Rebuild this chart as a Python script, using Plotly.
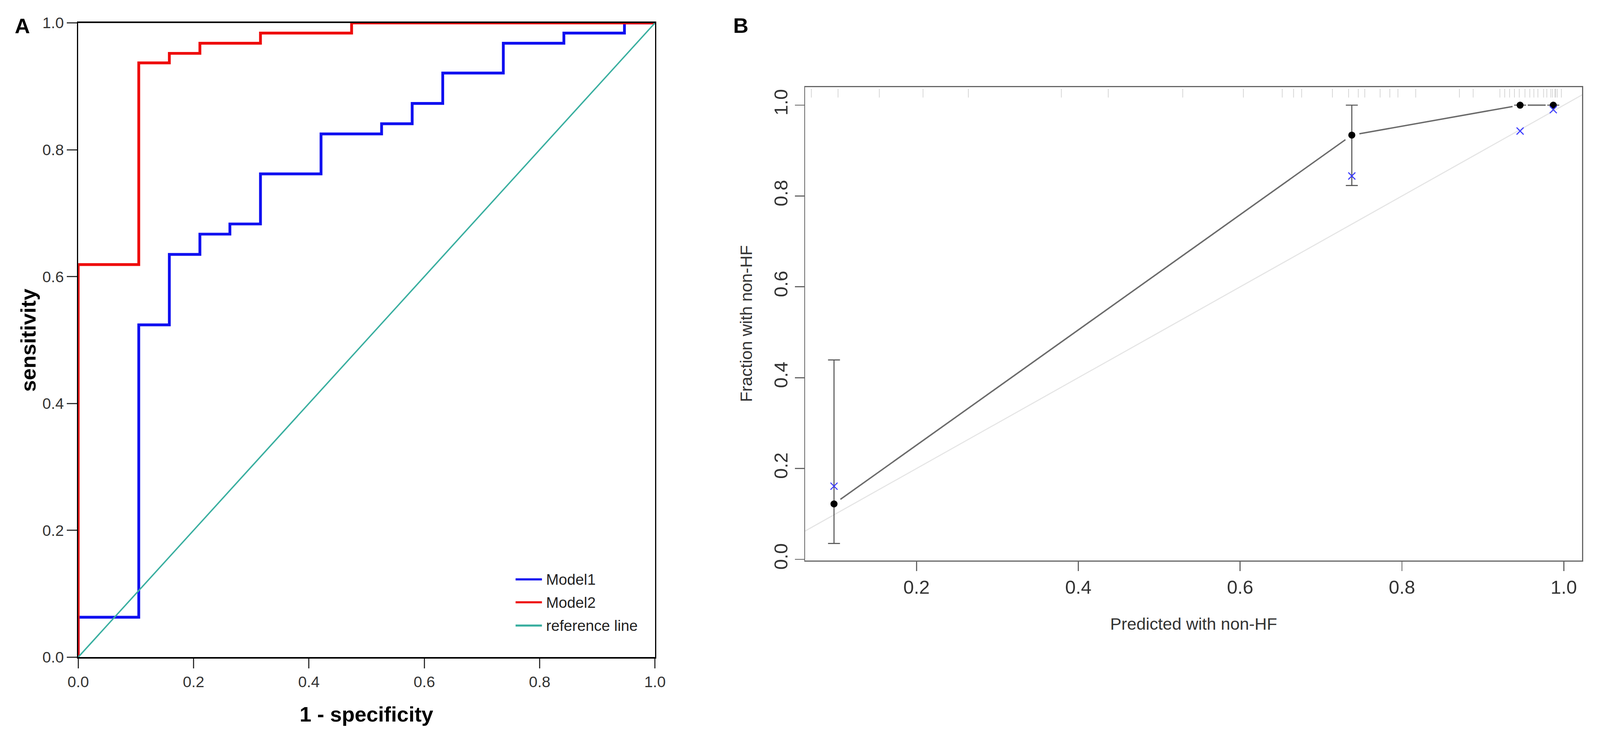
import math
import plotly.graph_objects as go

W, H = 4550, 1906

# ---- panel A: ROC curves ----
model1_fpr = [0.0, 0.0, 0.105, 0.158, 0.211, 0.263, 0.316, 0.421, 0.526, 0.579, 0.632, 0.737, 0.842, 0.947, 1.0]
model1_tpr = [0.0, 0.063, 0.524, 0.635, 0.667, 0.683, 0.762, 0.825, 0.841, 0.873, 0.921, 0.968, 0.984, 1.0, 1.0]
model2_fpr = [0.0, 0.0, 0.105, 0.158, 0.211, 0.316, 0.474, 1.0]
model2_tpr = [0.0, 0.619, 0.937, 0.952, 0.968, 0.984, 1.0, 1.0]
ref_x = [0.0, 1.0]
ref_y = [0.0, 1.0]
roc_ticks = [0.0, 0.2, 0.4, 0.6, 0.8, 1.0]
legend_names = ["Model1", "Model2", "reference line"]

# ---- panel B: calibration ----
pred = [0.098, 0.738, 0.946, 0.987]
observed = [0.122, 0.934, 1.0, 1.0]
obs_low = [0.035, 0.823, 1.0, 1.0]
obs_high = [0.439, 1.0, 1.0, 1.0]
corrected = [0.161, 0.844, 0.943, 0.99]
ideal = [0.0, 1.05]
rug = [0.070, 0.103, 0.154, 0.208, 0.264, 0.379, 0.437, 0.529, 0.604,
       0.652, 0.666, 0.676, 0.714, 0.734, 0.746, 0.754, 0.773, 0.785, 0.795,
       0.817, 0.871, 0.888, 0.921, 0.927, 0.933, 0.939, 0.945, 0.952, 0.958,
       0.963, 0.968, 0.975, 0.979, 0.984, 0.986, 0.989, 0.990, 0.992, 0.997]
cal_xticks = [0.2, 0.4, 0.6, 0.8, 1.0]
cal_yticks = [0.0, 0.2, 0.4, 0.6, 0.8, 1.0]

BLUE = "#1010f0"
RED = "#ee0a0a"
TEAL = "#3aafa0"
FONT = "Liberation Sans, Arial, sans-serif"


def px(x):
    return x / W


def py(y):
    return 1 - y / H


# plot areas in pixels
A_x0, A_x1, A_y0, A_y1 = 194, 1857, 37, 1700
B_x0, B_x1, B_y0, B_y1 = 2290, 4530, 205, 1447
B_xr = [0.0624, 1.0227]
B_yr = [-0.003, 1.04]


def gapped(xs, ys, gap):
    # R type="b": segments stop short of the points
    sx = (B_x1 - B_x0) / (B_xr[1] - B_xr[0])
    sy = (B_y1 - B_y0) / (B_yr[1] - B_yr[0])
    gx, gy = [], []
    for i in range(len(xs) - 1):
        dx = (xs[i + 1] - xs[i]) * sx
        dy = (ys[i + 1] - ys[i]) * sy
        f = gap / math.hypot(dx, dy)
        gx += [xs[i] + (xs[i + 1] - xs[i]) * f, xs[i + 1] - (xs[i + 1] - xs[i]) * f, None]
        gy += [ys[i] + (ys[i + 1] - ys[i]) * f, ys[i + 1] - (ys[i + 1] - ys[i]) * f, None]
    return gx, gy


fig = go.Figure()

fig.add_trace(go.Scatter(x=model1_fpr, y=model1_tpr, mode="lines", line_shape="hv",
                         line=dict(color=BLUE, width=8), xaxis="x", yaxis="y"))
fig.add_trace(go.Scatter(x=model2_fpr, y=model2_tpr, mode="lines", line_shape="hv",
                         line=dict(color=RED, width=8), xaxis="x", yaxis="y"))
fig.add_trace(go.Scatter(x=ref_x, y=ref_y, mode="lines",
                         line=dict(color=TEAL, width=4), xaxis="x", yaxis="y"))

# calibration plot
fig.add_trace(go.Scatter(x=ideal, y=ideal, mode="lines",
                         line=dict(color="#e4e4e4", width=3), xaxis="x2", yaxis="y2"))
fig.add_trace(go.Scatter(x=rug, y=[1.0265] * len(rug), mode="markers",
                         marker=dict(symbol="line-ns", size=18,
                                     line=dict(width=2, color="rgba(110,110,110,0.3)")),
                         xaxis="x2", yaxis="y2"))
lx, ly = gapped(pred, observed, 22)
fig.add_trace(go.Scatter(x=lx, y=ly, mode="lines",
                         line=dict(color="#6a6a6a", width=4), xaxis="x2", yaxis="y2"))
fig.add_trace(go.Scatter(
    x=pred, y=observed, mode="markers",
    marker=dict(color="black", size=20),
    error_y=dict(type="data", symmetric=False,
                 array=[h - o for h, o in zip(obs_high, observed)],
                 arrayminus=[o - l for o, l in zip(observed, obs_low)],
                 color="#555555", thickness=3, width=17),
    xaxis="x2", yaxis="y2"))
fig.add_trace(go.Scatter(x=pred, y=corrected, mode="markers",
                         marker=dict(symbol="x-thin", size=20,
                                     line=dict(width=3, color="#3a3aff")),
                         xaxis="x2", yaxis="y2"))

roc_axis = dict(range=[0, 1], showline=True, mirror=True, linecolor="black", linewidth=4,
                ticks="outside", ticklen=28, tickwidth=3, tickcolor="#333333",
                tickvals=roc_ticks, ticktext=["%.1f" % t for t in roc_ticks],
                tickfont=dict(family=FONT, size=44, color="#333333"),
                showgrid=False, zeroline=False, fixedrange=True)
cal_axis = dict(showline=True, mirror=True, linecolor="#666666", linewidth=3,
                ticks="outside", ticklen=26, tickwidth=3, tickcolor="#666666",
                tickfont=dict(family=FONT, size=54, color="#333333"),
                showgrid=False, zeroline=False, fixedrange=True)

annotations = [
    dict(text="<b>A</b>", x=px(33), y=py(45), font=dict(size=60, color="black")),
    dict(text="<b>B</b>", x=px(2104), y=py(44), font=dict(size=60, color="black")),
    dict(text="<b>1 - specificity</b>", x=px((A_x0 + A_x1) / 2), y=py(1850),
         font=dict(size=60, color="black")),
    dict(text="<b>sensitivity</b>", x=px(50), y=py((A_y0 + A_y1) / 2), textangle=-90,
         font=dict(size=60, color="black")),
    dict(text="Predicted with non-HF", x=px((B_x0 + B_x1) / 2), y=py(1613),
         font=dict(size=48, color="#333333")),
    dict(text="Fraction with non-HF", x=px(2120), y=py((B_y0 + B_y1) / 2), textangle=-90,
         font=dict(size=48, color="#333333")),
]
shapes = []
for name, color, ypx in zip(legend_names, [BLUE, RED, TEAL], [1496, 1556, 1617]):
    shapes.append(dict(type="line", xref="paper", yref="paper",
                       x0=px(1455), x1=px(1531), y0=py(ypx), y1=py(ypx),
                       line=dict(color=color, width=6)))
    annotations.append(dict(text=name, x=px(1541), y=py(ypx), xanchor="left",
                            font=dict(size=43, color="#222222")))
for a in annotations:
    a.setdefault("xanchor", "center")
    a.update(xref="paper", yref="paper", yanchor="middle", showarrow=False)
    a["font"]["family"] = FONT

fig.update_layout(
    width=W, height=H, autosize=False,
    margin=dict(l=0, r=0, t=0, b=0),
    paper_bgcolor="white", plot_bgcolor="white",
    showlegend=False,
    xaxis=dict(roc_axis, domain=[px(A_x0), px(A_x1)], anchor="y"),
    yaxis=dict(roc_axis, domain=[py(A_y1), py(A_y0)], anchor="x"),
    xaxis2=dict(cal_axis, range=B_xr, domain=[px(B_x0), px(B_x1)], anchor="y2",
                tickvals=cal_xticks, ticktext=["%.1f" % t for t in cal_xticks]),
    yaxis2=dict(cal_axis, range=B_yr, domain=[py(B_y1), py(B_y0)], anchor="x2",
                tickvals=cal_yticks, ticktext=["%.1f" % t for t in cal_yticks],
                tickangle=-90),
    annotations=annotations,
    shapes=shapes,
)

# the window need not be W x H css pixels: scale the figure to the window width
# and give it the window's aspect so it fills the page
fit_js = """
var gd = document.getElementById('{plot_id}');
var vw = window.innerWidth, vh = window.innerHeight;
var s = vw / %d;
var h = vh / s;
if (!(h > 0.8 * %d && h < 1.4 * %d)) { h = %d; }
document.documentElement.style.overflow = 'hidden';
document.body.style.margin = '0';
document.body.style.overflow = 'hidden';
var wrap = gd.parentElement;
wrap.style.width = vw + 'px';
wrap.style.height = vh + 'px';
wrap.style.overflow = 'hidden';
gd.style.transformOrigin = '0 0';
gd.style.transform = 'scale(' + s + ')';
Plotly.relayout(gd, {height: h});
""" % (W, H, H, H)

fig.write_html("out.html", post_script=fit_js, config={"displayModeBar": False})
